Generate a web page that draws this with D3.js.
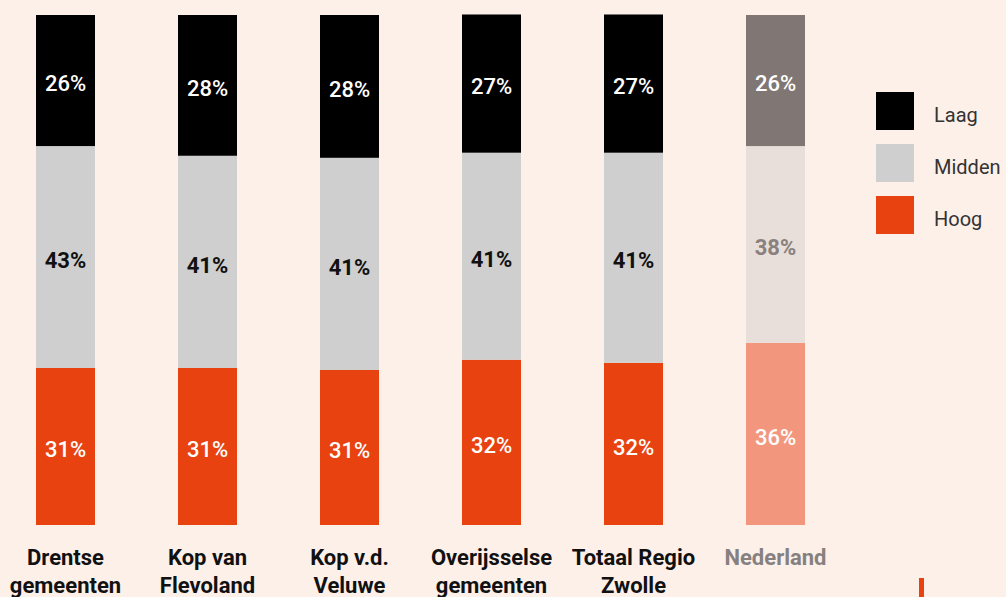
<!DOCTYPE html>
<html>
<head>
<meta charset="utf-8">
<script src="https://cdn.jsdelivr.net/npm/d3@7"></script>
<style>
  body { margin: 0; background: #fdf0e9; }
  svg { display: block; }
  text { font-family: Roboto, "Noto Sans", sans-serif; }
</style>
</head>
<body>
<div id="chart"></div>
<script>
// Data
const categories = ["Drentse gemeenten", "Kop van Flevoland", "Kop v.d. Veluwe",
                    "Overijsselse gemeenten", "Totaal Regio Zwolle", "Nederland"];
const categoryLines = [["Drentse", "gemeenten"], ["Kop van", "Flevoland"], ["Kop v.d.", "Veluwe"],
                       ["Overijsselse", "gemeenten"], ["Totaal Regio", "Zwolle"], ["Nederland"]];
const laag   = [25.7, 27.6, 28.0, 27.1, 27.1, 25.7];
const midden = [43.5, 41.6, 41.6, 40.6, 41.2, 38.6];
const hoog   = [30.8, 30.8, 30.4, 32.4, 31.8, 35.7];
const labelLaag   = [26, 28, 28, 27, 27, 26];
const labelMidden = [43, 41, 41, 41, 41, 38];
const labelHoog   = [31, 31, 31, 32, 32, 36];
const seriesKeys = ["Laag", "Midden", "Hoog"];

const width = 1006, height = 597;

const colors = {
    Laag: "#000000", Midden: "#cfcfcf", Hoog: "#e84211"
};
const fadedColors = {
    Laag: "#807774", Midden: "#e8dfdb", Hoog: "#f2977e"
};
const labelColors = { Laag: "#ffffff", Midden: "#111111", Hoog: "#ffffff" };
const fadedLabelColors = { Laag: "#ffffff", Midden: "#8a817e", Hoog: "#ffffff" };

const rows = categories.map((c, i) => ({
    cat: c, i: i,
    Laag: laag[i], Midden: midden[i], Hoog: hoog[i],
    lab: { Laag: labelLaag[i], Midden: labelMidden[i], Hoog: labelHoog[i] }
}));

const svg = d3.select("#chart")
              .append("svg")
              .attr("width", width)
              .attr("height", height);

const x = d3.scaleBand()
            .domain(categories)
            .range([36, 805])
            .paddingInner(0.5845)
            .paddingOuter(0);

const y = d3.scaleLinear()
            .domain([0, 100])
            .range([525, 15]);

// stack from bottom: Hoog, Midden, Laag
const stack = d3.stack().keys(["Hoog", "Midden", "Laag"]);
const stacked = stack(rows);

const layers = svg.selectAll(".layer")
                  .data(stacked)
                  .enter()
                  .append("g")
                  .attr("class", "layer");

layers.selectAll("rect")
      .data(d => d.map(p => ({ key: d.key, p: p })))
      .enter()
      .append("rect")
      .attr("x", d => x(d.p.data.cat))
      .attr("width", x.bandwidth())
      .attr("y", d => y(d.p[1]))
      .attr("height", d => y(d.p[0]) - y(d.p[1]))
      .style("fill", d => d.p.data.cat === "Nederland" ? fadedColors[d.key] : colors[d.key]);

layers.selectAll("text")
      .data(d => d.map(p => ({ key: d.key, p: p })))
      .enter()
      .append("text")
      .attr("x", d => x(d.p.data.cat) + x.bandwidth() / 2)
      .attr("y", d => (y(d.p[0]) + y(d.p[1])) / 2 + 3)
      .attr("dy", "0.35em")
      .attr("text-anchor", "middle")
      .style("font-size", "22px")
      .style("font-weight", d => d.key === "Midden" ? 700 : 500)
      .style("fill", d => d.p.data.cat === "Nederland" ? fadedLabelColors[d.key] : labelColors[d.key])
      .text(d => d.p.data.lab[d.key] + "%");

// x labels
const xLabels = svg.selectAll(".xlabel")
                   .data(categories)
                   .enter()
                   .append("text")
                   .attr("class", "xlabel")
                   .attr("x", d => x(d) + x.bandwidth() / 2)
                   .attr("y", 557)
                   .attr("dy", "0.35em")
                   .attr("text-anchor", "middle")
                   .style("font-size", "22px")
                   .style("font-weight", 700)
                   .style("fill", d => d === "Nederland" ? "#868080" : "#111111");

xLabels.selectAll("tspan")
       .data((d, i) => categoryLines[i])
       .enter()
       .append("tspan")
       .attr("x", function() { return d3.select(this.parentNode).attr("x"); })
       .attr("dy", (d, j) => j === 0 ? "0.35em" : "1.3em")
       .text(d => d);

// legend
const legend = svg.append("g").attr("transform", "translate(876, 92)");
const items = legend.selectAll(".legendItem")
                    .data(seriesKeys)
                    .enter()
                    .append("g")
                    .attr("class", "legendItem")
                    .attr("transform", (d, i) => `translate(0, ${i * 52})`);

items.append("rect")
     .attr("width", 38)
     .attr("height", 38)
     .style("fill", d => colors[d]);

items.append("text")
     .attr("x", 58)
     .attr("y", 23)
     .attr("dy", "0.35em")
     .style("font-size", "20px")
     .style("fill", "#333")
     .text(d => d);

// small orange mark bottom right
svg.append("rect")
   .attr("x", 919)
   .attr("y", 578)
   .attr("width", 5)
   .attr("height", 20)
   .style("fill", colors.Hoog);
</script>
</body>
</html>
